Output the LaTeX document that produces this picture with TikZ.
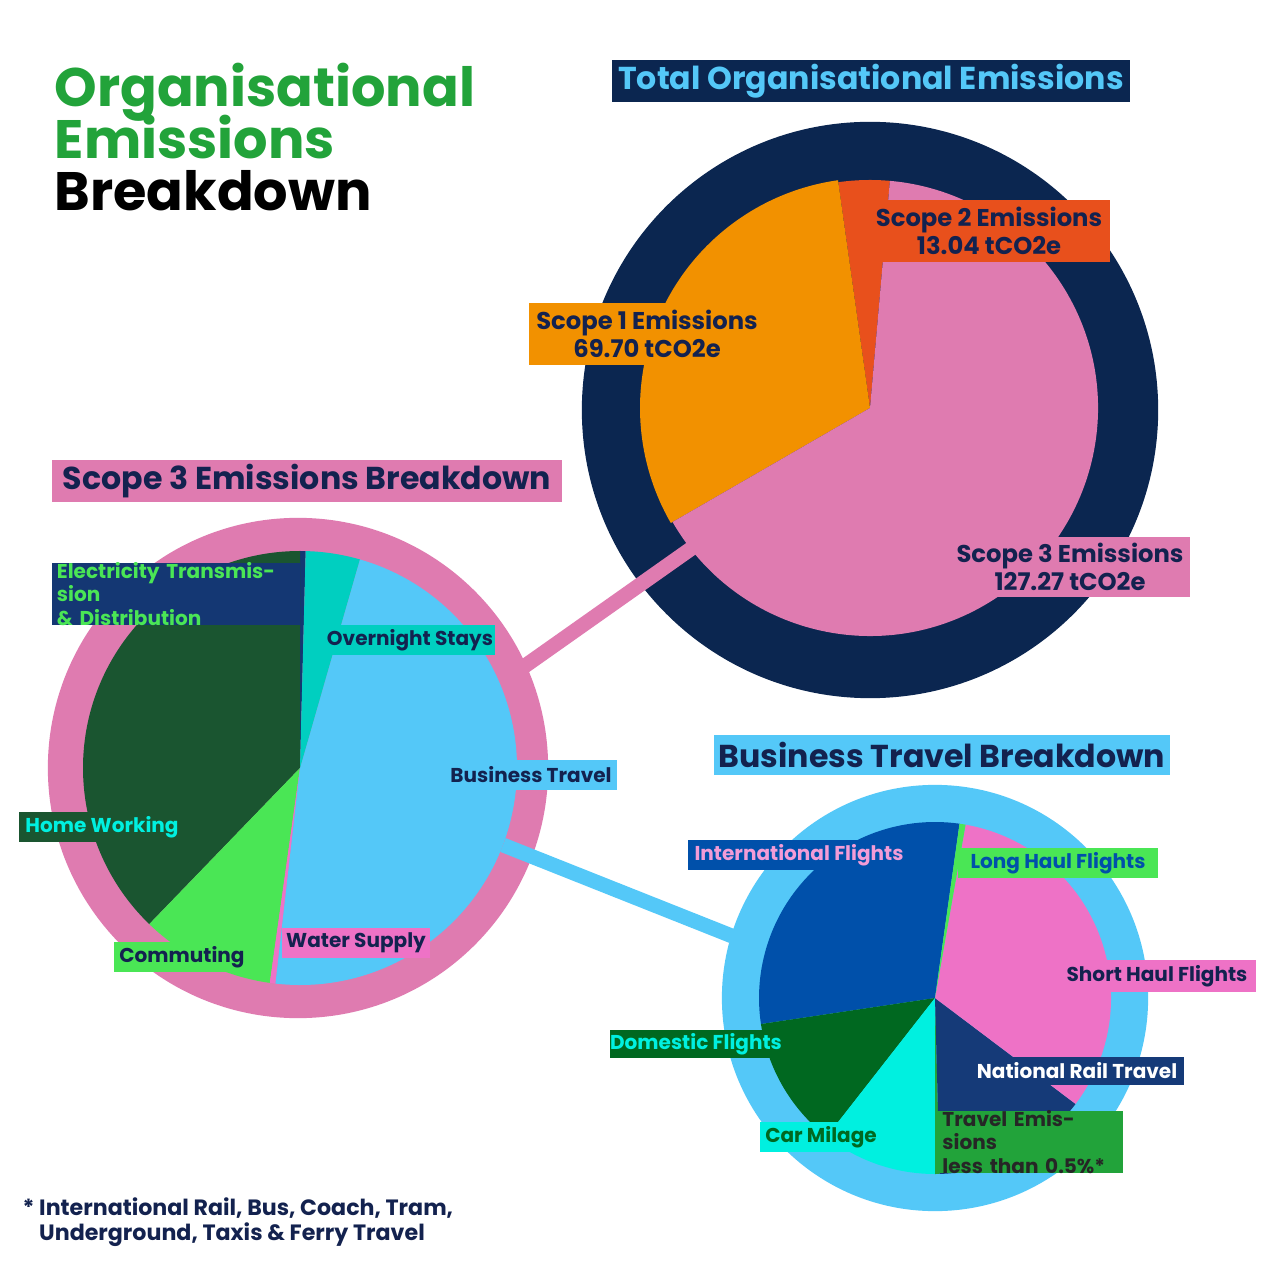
\documentclass[tikz,border=0pt]{standalone}
\usepackage{fontspec}
\setmainfont{Poppins}[BoldFont={Poppins Bold}]
\usetikzlibrary{positioning}

\definecolor{ringnavy}{HTML}{0B2650}
\definecolor{txtnavy}{HTML}{13224F}
\definecolor{orange1}{HTML}{F29100}
\definecolor{red2}{HTML}{E8501C}
\definecolor{pink3}{HTML}{DF7BB0}
\definecolor{ltblue}{HTML}{54C8F8}
\definecolor{teal}{HTML}{00CFC0}
\definecolor{dkgreen}{HTML}{1A5530}
\definecolor{ltgreen}{HTML}{4AE655}
\definecolor{elecnavy}{HTML}{143773}
\definecolor{intlblue}{HTML}{0050AA}
\definecolor{shpink}{HTML}{EE72C6}
\definecolor{railnavy}{HTML}{153A78}
\definecolor{domgreen}{HTML}{006820}
\definecolor{cyan}{HTML}{00F0E0}
\definecolor{midgreen}{HTML}{22A33A}

% pie slice: centre, radius, from, to, colour (screen angles)
\newcommand{\slice}[5]{\fill[#5] (#1) -- ++(-#3:#2) arc[start angle=-#3,end angle=-#4,radius=#2] -- cycle;}
\newcommand{\tightlines}{\lineskiplimit-20pt\relax}

\begin{document}
\begin{tikzpicture}[x=0.01cm,y=-0.01cm,font=\bfseries,
  tag/.style={inner sep=0pt,align=center,text=txtnavy,font=\fontsize{5.7}{6.6}\selectfont\bfseries\tightlines},
  big/.style={tag,font=\fontsize{6.9}{8}\selectfont\bfseries\tightlines},
  head/.style={inner sep=0pt,text=txtnavy,font=\fontsize{9}{11}\selectfont\bfseries},
  ring/.style={circle,inner sep=0pt,minimum size=#1}]
\useasboundingbox[fill=white] (0,0) rectangle (1280,1280);

% title
\node (title) [anchor=north west,align=left,inner sep=0pt,font=\fontsize{15.4}{14.8}\selectfont\bfseries\tightlines] at (54,62)
  {\textcolor{midgreen}{Organisational}\\\textcolor{midgreen}{Emissions}\\Breakdown};

% total emissions
\coordinate (tot) at (870,408);
\node (totring) [ring=5.76cm,fill=ringnavy] at (870,410) {};
\slice{tot}{228}{85}{98}{red2}
\slice{tot}{230}{98}{210}{orange1}
\slice{tot}{228}{-150}{85}{pink3}

% scope 3
\coordinate (sc3) at (300,768);
\node (scring) [ring=5cm,fill=pink3] at (298,768) {};
\slice{sc3}{217}{88.5}{90}{elecnavy}
\slice{sc3}{217}{90}{226}{dkgreen}
\slice{sc3}{217}{226}{262}{ltgreen}
\slice{sc3}{217}{262}{263.5}{shpink}
\slice{sc3}{217}{-96.5}{74}{ltblue}
\slice{sc3}{217}{74}{88.5}{teal}

% business travel
\coordinate (bt) at (935,998);
\node (btring) [ring=4.26cm,fill=ltblue] at (935,998) {};
\slice{bt}{176}{82}{188.5}{intlblue}
\slice{bt}{176}{188.5}{232}{domgreen}
\slice{bt}{176}{232}{270}{cyan}
\slice{bt}{176}{270}{271.5}{midgreen}
\slice{bt}{176}{271.5}{323}{railnavy}
\slice{bt}{176}{-37}{80}{shpink}
\slice{bt}{176}{80}{82}{ltgreen}

% links
\coordinate (l1a) at (692,548);
\coordinate (l1b) at (522,668);
\coordinate (l2a) at (503,845);
\coordinate (l2b) at (732,936);
\draw[pink3,line width=4.2pt] (l1a) -- (l1b);
\draw[ltblue,line width=4.2pt] (l2a) -- (l2b);

% headings
\node (tothead) [head,fill=ringnavy,text=ltblue,minimum width=5.18cm,minimum height=0.42cm] at (871,81) {Total Organisational Emissions};
\node (schead) [head,fill=pink3,minimum width=5.09cm,minimum height=0.42cm] at (307,481) {Scope 3 Emissions Breakdown};
\node (bthead) [head,fill=ltblue,minimum width=4.55cm,minimum height=0.40cm] at (942,755) {Business Travel Breakdown};

% scope labels
\node (s2) [big,fill=red2,minimum width=2.42cm,minimum height=0.62cm] at (989,231) {Scope 2 Emissions\\13.04 tCO2e};
\node (s1) [big,fill=orange1,minimum width=2.35cm,minimum height=0.62cm] at (647,334) {Scope 1 Emissions\\69.70 tCO2e};
\node (s3) [big,fill=pink3,minimum width=2.40cm,minimum height=0.60cm] at (1070,567) {Scope 3 Emissions\\127.27 tCO2e};

% scope 3 labels
\node (elec) [tag,fill=elecnavy,text=ltgreen,align=left,minimum width=2.48cm,minimum height=0.52cm,text width=2.38cm] at (176,594) {Electricity Transmission\\\& Distribution};
\node (stay) [tag,fill=teal,minimum width=1.70cm,minimum height=0.30cm] at (410,640) {Overnight Stays};
\node (trav) [tag,fill=ltblue,minimum width=1.72cm,minimum height=0.30cm] at (531,775) {Business Travel};
\node (home) [tag,fill=dkgreen,text=cyan,minimum width=1.65cm,minimum height=0.30cm] at (102,827) {Home Working};
\node (comm) [tag,fill=ltgreen,minimum width=1.35cm,minimum height=0.30cm] at (182,957) {Commuting};
\node (water) [tag,fill=shpink,minimum width=1.47cm,minimum height=0.30cm] at (356,943) {Water Supply};

% business travel labels
\node (intl) [tag,fill=intlblue,text=shpink!70!white,minimum width=2.22cm,minimum height=0.30cm] at (799,855) {International Flights};
\node (long) [tag,fill=ltgreen,text=intlblue,minimum width=2.00cm,minimum height=0.30cm] at (1058,863) {Long Haul Flights};
\node (short) [tag,fill=shpink,minimum width=1.97cm,minimum height=0.32cm] at (1157,976) {Short Haul Flights};
\node (rail) [tag,fill=railnavy,text=white,minimum width=2.13cm,minimum height=0.28cm] at (1077,1071) {National Rail Travel};
\node (dom) [tag,fill=domgreen,text=cyan,minimum width=1.72cm,minimum height=0.28cm] at (696,1044) {Domestic Flights};
\node (car) [tag,fill=cyan,text=domgreen,minimum width=1.22cm,minimum height=0.30cm] at (821,1137) {Car Milage};
\node (other) [tag,fill=midgreen,text=black!85,align=left,minimum width=1.85cm,minimum height=0.50cm,text width=1.75cm] at (1030,1142) {Travel Emissions\\less than 0.5\%*};

% footnote
\node (foot) [anchor=north west,align=left,inner sep=0pt,text=txtnavy,font=\fontsize{6.3}{7}\selectfont\bfseries\tightlines] at (22,1197)
  {* International Rail, Bus, Coach, Tram,\\\hphantom{* }Underground, Taxis \& Ferry Travel};
\end{tikzpicture}
\end{document}
